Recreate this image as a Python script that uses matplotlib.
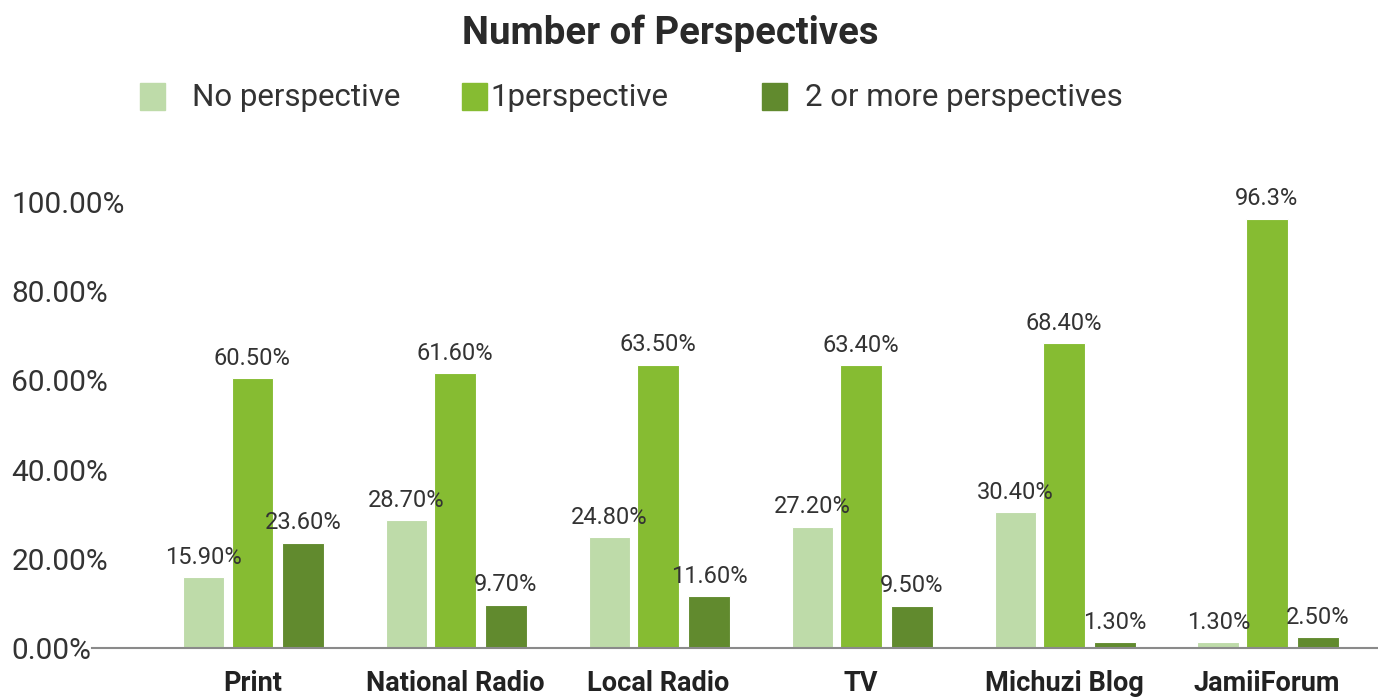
import matplotlib
matplotlib.use("Agg")
import matplotlib.pyplot as plt
from matplotlib.patches import Rectangle
import numpy as np

plt.rcParams["font.family"] = ["Roboto", "DejaVu Sans"]

# Data
outlets = ["Print", "National Radio", "Local Radio", "TV", "Michuzi Blog", "JamiiForum"]
series_names = ["No perspective", "1perspective", "2 or more perspectives"]
no_perspective = [15.9, 28.7, 24.8, 27.2, 30.4, 1.3]
one_perspective = [60.5, 61.6, 63.5, 63.4, 68.4, 96.3]
two_plus = [23.6, 9.7, 11.6, 9.5, 1.3, 2.5]
value_labels = [
    ["15.90%", "28.70%", "24.80%", "27.20%", "30.40%", "1.30%"],
    ["60.50%", "61.60%", "63.50%", "63.40%", "68.40%", "96.3%"],
    ["23.60%", "9.70%", "11.60%", "9.50%", "1.30%", "2.50%"],
]
yticks = [0, 20, 40, 60, 80, 100]
ytick_labels = ["0.00%", "20.00%", "40.00%", "60.00%", "80.00%", "100.00%"]

colors = ["#BEDBA9", "#86BC32", "#618A2E"]
text_color = "#333333"

W, H = 1378, 698
fig = plt.figure(figsize=(W / 100, H / 100), dpi=100)
ax = fig.add_axes([92 / W, 1 - 648 / H, 1 - 92 / W, (648 - 202) / H])

x = np.arange(len(outlets))
offsets = [-0.24, 0.0, 0.25]
width = 0.205
all_series = [no_perspective, one_perspective, two_plus]

for vals, off, col, labels in zip(all_series, offsets, colors, value_labels):
    bars = ax.bar(x + off, vals, width=width, color=col, edgecolor="white",
                  linewidth=0.8, zorder=2)
    for rect, lab in zip(bars, labels):
        ax.annotate(lab, (rect.get_x() + rect.get_width() / 2, rect.get_height()),
                    xytext=(0, 6), textcoords="offset points", ha="center",
                    va="bottom", fontsize=17, color=text_color, zorder=3)

ax.set_xlim(-0.79, 5.547)
ax.set_ylim(0, 100)

for side in ["top", "right", "left"]:
    ax.spines[side].set_visible(False)
ax.spines["bottom"].set_color("#8a8a8a")
ax.spines["bottom"].set_linewidth(1.5)

ax.set_yticks(yticks)
ax.set_yticklabels(ytick_labels, fontsize=21.5, color=text_color)
ax.tick_params(axis="y", length=0, pad=58)
for t in ax.get_yticklabels():
    t.set_horizontalalignment("left")

ax.set_xticks(x)
ax.set_xticklabels(outlets, fontsize=19.5, fontweight="bold", color="#222222")
ax.tick_params(axis="x", length=0, pad=16)

# Title
fig.text(670 / W, 1 - 33 / H, "Number of Perspectives", ha="center", va="center",
         fontsize=27.5, fontweight="bold", color="#2a2a2a")

# Legend
legend_items = [(140, 192), (462, 490), (762, 805)]
for (sx, tx), name, col in zip(legend_items, series_names, colors):
    fig.patches.append(Rectangle((sx / W, 1 - 110 / H), 25 / W, 27 / H,
                                 transform=fig.transFigure, color=col))
    fig.text(tx / W, 1 - 97 / H, name, ha="left", va="center",
             fontsize=22.5, color=text_color)

fig.savefig("out.png", dpi=100)
